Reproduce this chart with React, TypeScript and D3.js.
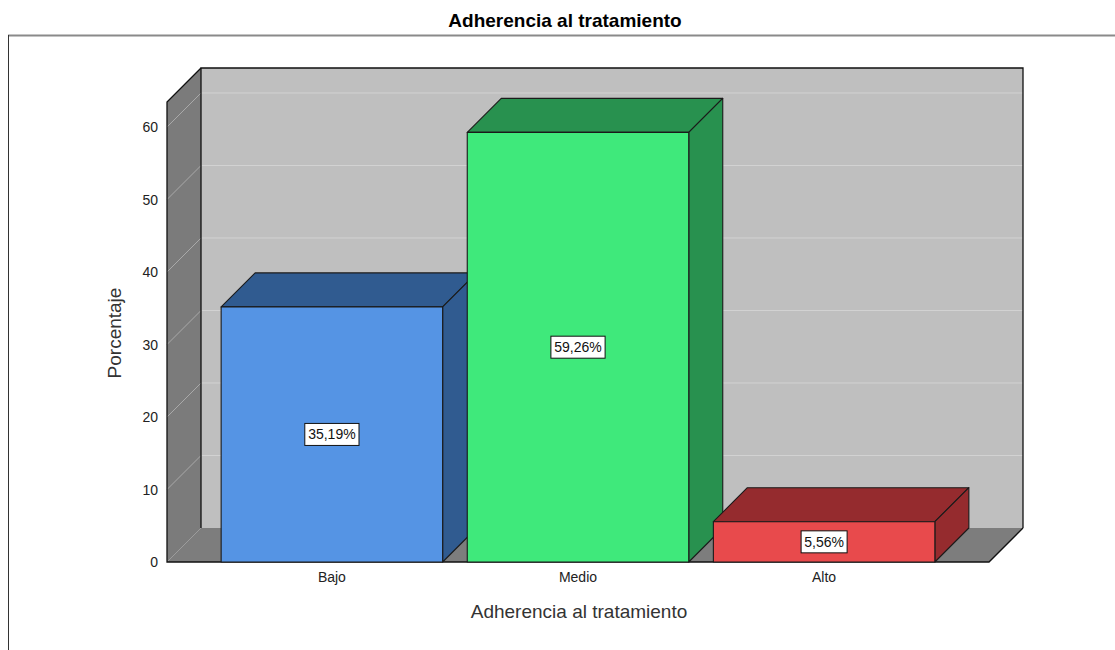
import React from "react";
import * as d3 from "d3";

const categories = ["Bajo", "Medio", "Alto"];
const percentages = [35.19, 59.26, 5.56];
const valueLabels = ["35,19%", "59,26%", "5,56%"];
const yTicks = [0, 10, 20, 30, 40, 50, 60];
const frontColors = ["#5594e4", "#3fe97b", "#e84a4c"];
const darkColors = ["#305b90", "#28914f", "#952b2e"];

const W = 1115;
const H = 650;
const FONT = "'Liberation Sans', Arial, sans-serif";

// depth of the 3D box (projection offset)
const DX = 34;
const DY = -34;

const x = d3
  .scaleBand<string>()
  .domain(categories)
  .range([167, 989])
  .paddingInner(0.1)
  .paddingOuter(0.22);

const y = d3.scaleLinear().domain([0, 63.45]).range([562, 102]);

const pts = (arr: [number, number][]) => arr.map((p) => p.join(",")).join(" ");

export default function App() {
  const [x0, x1] = x.range();
  const y0 = y(0);
  const yTop = y(y.domain()[1]);

  return (
    <div style={{ position: "absolute", left: 0, top: 0 }}>
      <svg width={W} height={H} style={{ display: "block", fontFamily: FONT }}>
        <rect x={0} y={0} width={W} height={H} fill="#ffffff" />
        <text
          x={565}
          y={27}
          textAnchor="middle"
          fontSize={19}
          fontWeight="bold"
          fill="#000"
        >
          Adherencia al tratamiento
        </text>
        {/* outer frame */}
        <line x1={8} y1={35.5} x2={W} y2={35.5} stroke="#8a8a8a" strokeWidth={2} />
        <line x1={8.5} y1={35} x2={8.5} y2={H} stroke="#333" strokeWidth={1} />

        {/* back wall */}
        <rect
          x={x0 + DX}
          y={yTop + DY}
          width={x1 - x0}
          height={y0 - yTop}
          fill="#bfbfbf"
        />
        {/* left wall */}
        <polygon
          points={pts([
            [x0, yTop],
            [x0 + DX, yTop + DY],
            [x0 + DX, y0 + DY],
            [x0, y0],
          ])}
          fill="#7b7b7b"
        />
        {/* floor */}
        <polygon
          points={pts([
            [x0, y0],
            [x0 + DX, y0 + DY],
            [x1 + DX, y0 + DY],
            [x1, y0],
          ])}
          fill="#7d7d7d"
        />
        {/* gridlines */}
        {yTicks
          .filter((t) => t > 0)
          .map((t) => (
            <g key={t}>
              <line
                x1={x0 + DX}
                x2={x1 + DX}
                y1={y(t) + DY}
                y2={y(t) + DY}
                stroke="#d2d2d2"
                strokeWidth={1}
              />
              <line
                x1={x0}
                y1={y(t)}
                x2={x0 + DX}
                y2={y(t) + DY}
                stroke="#a9a9a9"
                strokeWidth={1}
              />
            </g>
          ))}
        {/* box edges */}
        <g stroke="#111" strokeWidth={1.3} fill="none">
          <polyline
            points={pts([
              [x0 + DX, y0 + DY],
              [x0 + DX, yTop + DY],
              [x1 + DX, yTop + DY],
              [x1 + DX, y0 + DY],
            ])}
          />
          <polyline
            points={pts([
              [x0 + DX, yTop + DY],
              [x0, yTop],
              [x0, y0],
              [x1, y0],
              [x1 + DX, y0 + DY],
            ])}
          />
        </g>

        {/* bars */}
        {categories.map((c, i) => {
          const bx = x(c)!;
          const bw = x.bandwidth();
          const by = y(percentages[i]);
          return (
            <g key={c} stroke="#1a1a1a" strokeWidth={1.1} strokeLinejoin="round">
              <polygon
                points={pts([
                  [bx, by],
                  [bx + DX, by + DY],
                  [bx + bw + DX, by + DY],
                  [bx + bw, by],
                ])}
                fill={darkColors[i]}
              />
              <polygon
                points={pts([
                  [bx + bw, by],
                  [bx + bw + DX, by + DY],
                  [bx + bw + DX, y0 + DY],
                  [bx + bw, y0],
                ])}
                fill={darkColors[i]}
              />
              <rect x={bx} y={by} width={bw} height={y0 - by} fill={frontColors[i]} />
            </g>
          );
        })}

        {/* value labels */}
        {categories.map((c, i) => {
          const cx = x(c)! + x.bandwidth() / 2;
          const cy = (y(percentages[i]) + y0) / 2;
          const bw = valueLabels[i].length * 8.2 + 5;
          return (
            <g key={c}>
              <rect
                x={cx - bw / 2}
                y={cy - 11}
                width={bw}
                height={22}
                fill="#ffffff"
                stroke="#111"
                strokeWidth={1}
              />
              <text
                x={cx}
                y={cy + 5}
                textAnchor="middle"
                fontSize={14}
                fill="#111"
              >
                {valueLabels[i]}
              </text>
            </g>
          );
        })}

        {/* y tick labels */}
        {yTicks.map((t) => (
          <text
            key={t}
            x={158}
            y={y(t) + 5}
            textAnchor="end"
            fontSize={14}
            fill="#222"
          >
            {t}
          </text>
        ))}
        {/* x tick labels */}
        {categories.map((c) => (
          <text
            key={c}
            x={x(c)! + x.bandwidth() / 2}
            y={582}
            textAnchor="middle"
            fontSize={14}
            fill="#222"
          >
            {c}
          </text>
        ))}

        {/* axis titles */}
        <text
          x={579}
          y={618}
          textAnchor="middle"
          fontSize={19}
          fill="#333"
        >
          Adherencia al tratamiento
        </text>
        <text
          transform={`translate(121, 333) rotate(-90)`}
          textAnchor="middle"
          fontSize={19}
          fill="#333"
        >
          Porcentaje
        </text>
      </svg>
    </div>
  );
}
